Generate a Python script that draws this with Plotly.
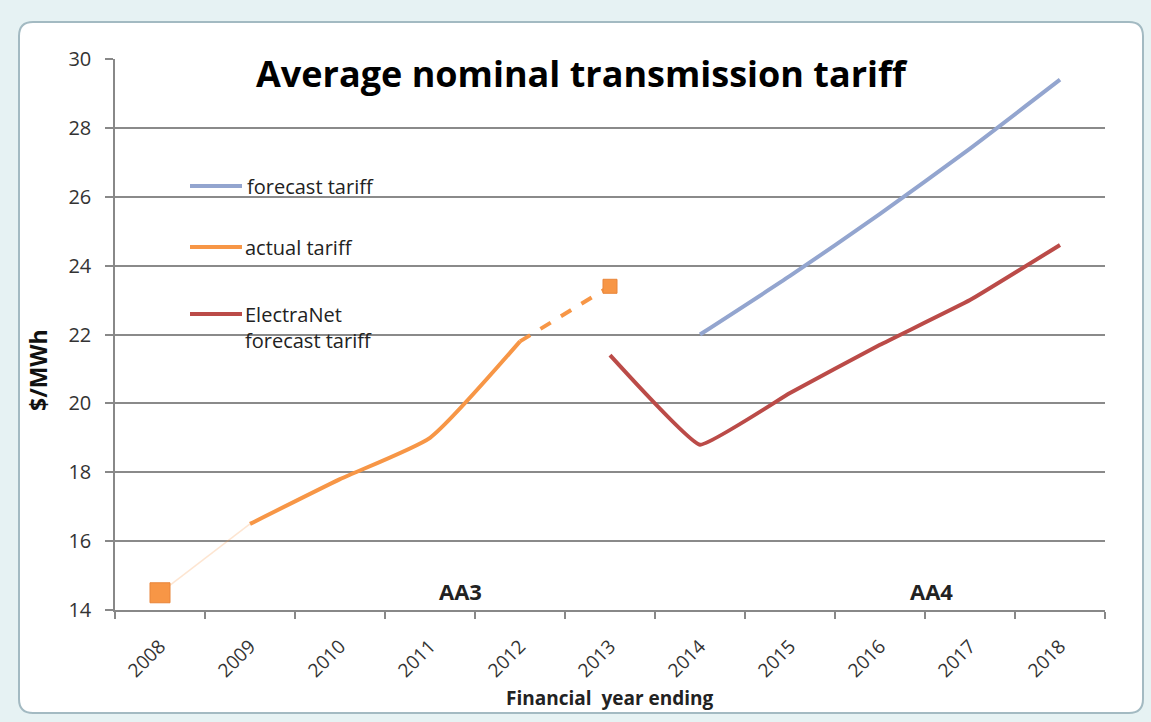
import plotly.graph_objects as go

# Financial years (categories on the x axis)
years = ["2008", "2009", "2010", "2011", "2012", "2013",
         "2014", "2015", "2016", "2017", "2018"]

# Actual tariff ($/MWh)
actual_start_years = ["2008", "2009"]
actual_start_vals = [14.5, 16.5]
actual_years = ["2009", "2010", "2011", "2012"]
actual_vals = [16.5, 17.8, 19.0, 21.8]
actual_est_years = ["2012", "2013"]
actual_est_vals = [21.8, 23.4]

# Forecast tariff ($/MWh)
forecast_years = ["2014", "2015", "2016", "2017", "2018"]
forecast_vals = [22.0, 23.7, 25.5, 27.4, 29.4]

# ElectraNet forecast tariff ($/MWh)
electranet_years = ["2013", "2014", "2015", "2016", "2017", "2018"]
electranet_vals = [21.4, 18.8, 20.3, 21.7, 23.0, 24.6]

y_ticks = [14, 16, 18, 20, 22, 24, 26, 28, 30]

ORANGE = "#F79646"
BLUE = "#93A5CF"
RED = "#BB4B48"
FONT = "'Open Sans', 'Noto Sans', sans-serif"

W, H = 1151, 722
L, R, T, B = 115, 46, 59, 112
PW, PH = W - L - R, H - T - B


def px(x):
    return (x - L) / PW


def py(y):
    return (H - B - y) / PH


fig = go.Figure()

fig.add_trace(go.Scatter(
    x=actual_start_years, y=actual_start_vals, mode="lines",
    line=dict(color="rgba(247,150,70,0.25)", width=1.5),
    hoverinfo="skip", showlegend=False))
fig.add_trace(go.Scatter(
    x=actual_years, y=actual_vals, mode="lines",
    line=dict(color=ORANGE, width=4, shape="spline", smoothing=0.5),
    showlegend=False))
fig.add_trace(go.Scatter(
    x=actual_est_years, y=actual_est_vals, mode="lines",
    line=dict(color=ORANGE, width=4, dash="dash"),
    showlegend=False))
fig.add_trace(go.Scatter(
    x=[actual_start_years[0]], y=[actual_start_vals[0]], mode="markers",
    marker=dict(symbol="square", size=20, color=ORANGE,
                line=dict(color="#E8853A", width=1)),
    showlegend=False))
fig.add_trace(go.Scatter(
    x=[actual_est_years[-1]], y=[actual_est_vals[-1]], mode="markers",
    marker=dict(symbol="square", size=14, color=ORANGE,
                line=dict(color="#E8853A", width=1)),
    showlegend=False))
fig.add_trace(go.Scatter(
    x=forecast_years, y=forecast_vals, mode="lines",
    line=dict(color=BLUE, width=4, shape="spline", smoothing=0.5),
    showlegend=False))
fig.add_trace(go.Scatter(
    x=electranet_years, y=electranet_vals, mode="lines",
    line=dict(color=RED, width=4, shape="spline", smoothing=0.3),
    showlegend=False))

shapes = []
# chart frame with rounded corners
x0, x1, y0, y1, r = 19, 1143, 22, 713, 14
path = (f"M {px(x0 + r)},{py(y0)} L {px(x1 - r)},{py(y0)} "
        f"Q {px(x1)},{py(y0)} {px(x1)},{py(y0 + r)} "
        f"L {px(x1)},{py(y1 - r)} Q {px(x1)},{py(y1)} {px(x1 - r)},{py(y1)} "
        f"L {px(x0 + r)},{py(y1)} Q {px(x0)},{py(y1)} {px(x0)},{py(y1 - r)} "
        f"L {px(x0)},{py(y0 + r)} Q {px(x0)},{py(y0)} {px(x0 + r)},{py(y0)} Z")
shapes.append(dict(type="path", path=path, xref="paper", yref="paper",
                   fillcolor="white", line=dict(color="#A3BAC2", width=2),
                   layer="below"))

# hand-drawn key
key_items = [(186, BLUE), (247, ORANGE), (314, RED)]
for ky, col in key_items:
    shapes.append(dict(type="line", xref="paper", yref="paper",
                       x0=px(190), x1=px(242), y0=py(ky), y1=py(ky),
                       line=dict(color=col, width=4)))


def label(text, x, y, size, color="#222", **kw):
    kw.setdefault("xanchor", "center")
    return dict(text=text, xref="paper", yref="paper", x=px(x), y=py(y),
                showarrow=False, yanchor="middle",
                font=dict(family=FONT, size=size, color=color), **kw)


annotations = [
    label("<b>Average nominal transmission tariff</b>", 582, 73, 36, "black"),
    label("forecast tariff", 245, 186, 20, xanchor="left"),
    label("actual tariff", 243, 247, 20, xanchor="left"),
    label("ElectraNet<br>forecast tariff", 243, 327, 20, xanchor="left",
          align="left"),
    label("<b>AA3</b>", 460, 591, 22),
    label("<b>AA4</b>", 931, 591, 22),
    label("<b>Financial  year ending</b>", 609, 698, 19),
    label("<b>$/MWh</b>", 38, 370, 23, "#111", textangle=-90),
]

fig.update_layout(
    width=W, height=H,
    margin=dict(l=L, r=R, t=T, b=B),
    paper_bgcolor="#E6F2F3",
    plot_bgcolor="rgba(0,0,0,0)",
    font=dict(family=FONT, color="#333"),
    shapes=shapes,
    annotations=annotations,
    showlegend=False,
)

fig.update_xaxes(
    type="category", categoryorder="array", categoryarray=years,
    range=[-0.5, len(years) - 0.5],
    tickson="boundaries", ticks="outside", ticklen=7,
    tickcolor="#888", tickwidth=1.5,
    showline=True, linecolor="#888", linewidth=1.5,
    showgrid=False, tickangle=-45, ticklabelstandoff=16,
    tickfont=dict(family=FONT, size=19, color="#333"),
)

fig.update_yaxes(
    range=[14, 30], tickvals=y_ticks, ticks="outside", ticklen=8,
    tickcolor="#888", tickwidth=1.5,
    showline=True, linecolor="#888", linewidth=1.5,
    showgrid=True, gridcolor="#8A8A8A", gridwidth=1.5,
    zeroline=False, ticklabelstandoff=10,
    tickfont=dict(family=FONT, size=20, color="#333"),
)

fig.write_html("out.html")
